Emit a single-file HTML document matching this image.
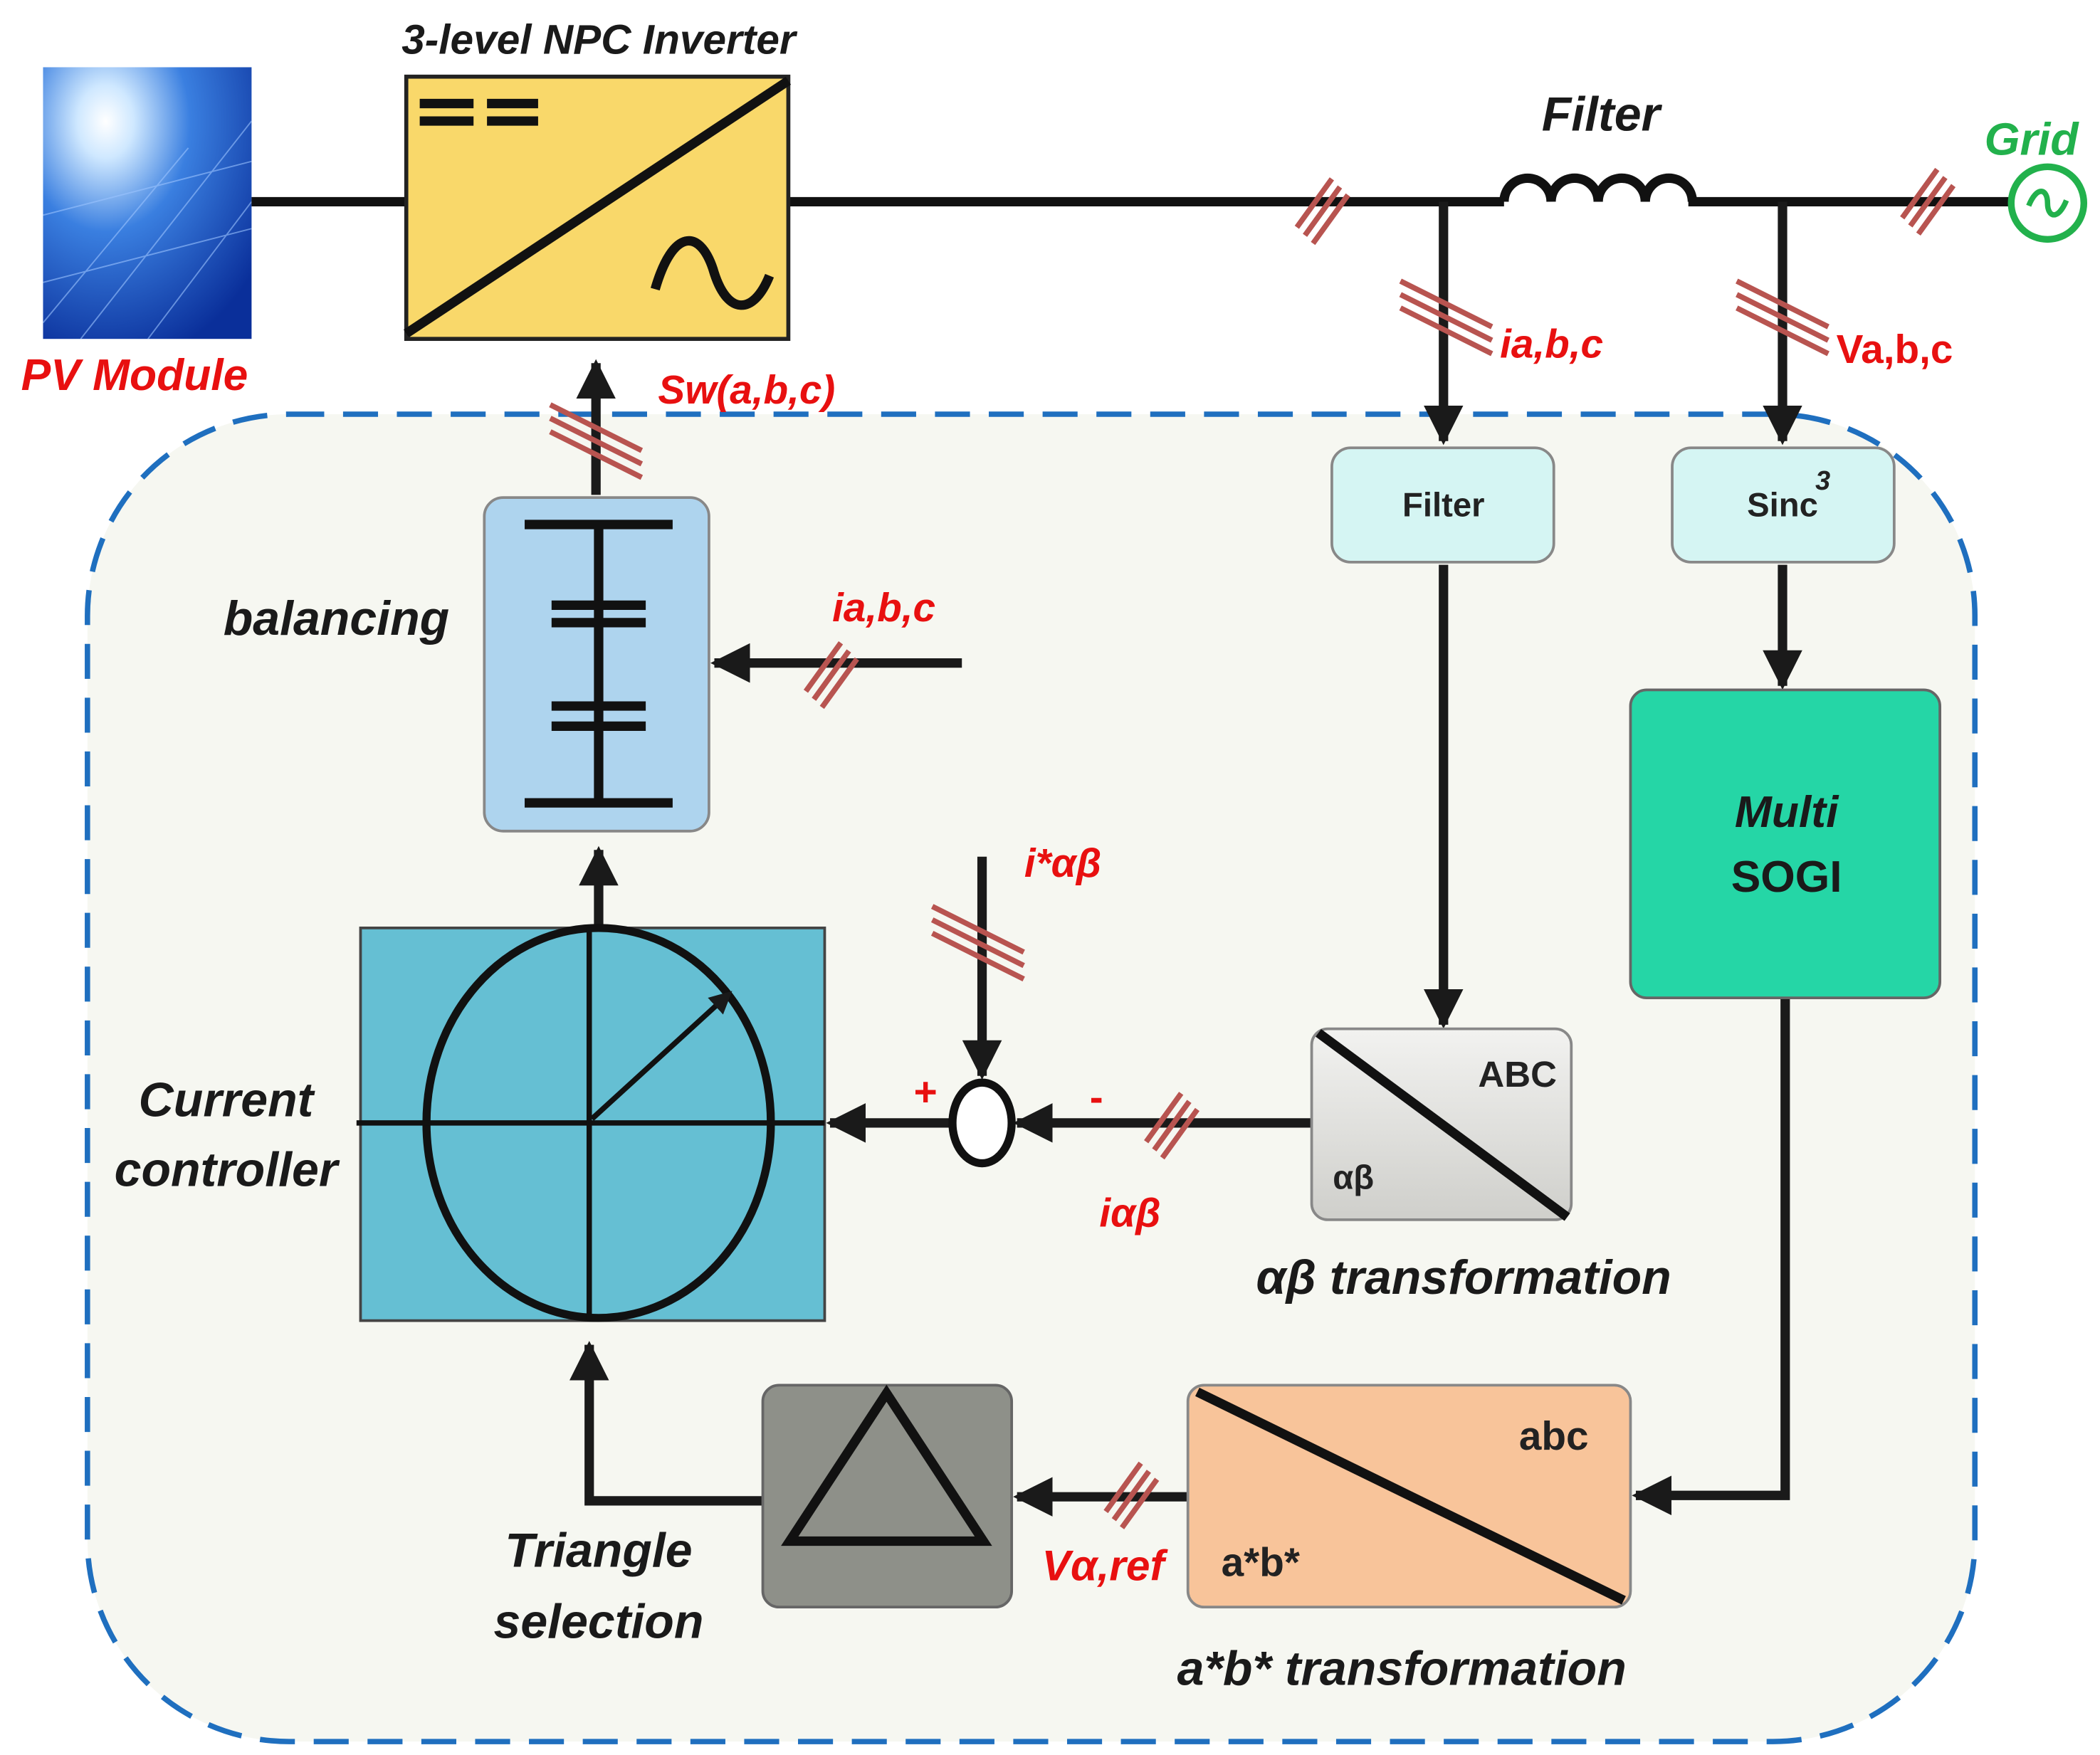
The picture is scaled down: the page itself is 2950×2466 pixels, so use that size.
<!DOCTYPE html>
<html><head><meta charset="utf-8"><style>
html,body{margin:0;padding:0;background:#fff}
svg{display:block}
text{font-family:"Liberation Sans",sans-serif;font-weight:bold}
</style></head><body>
<svg width="2950" height="2466" viewBox="0 0 1561 1305" preserveAspectRatio="none" xmlns="http://www.w3.org/2000/svg">
<defs>
<marker id="ar" viewBox="0 0 10 10" refX="9" refY="5" markerWidth="4.2" markerHeight="4.2" orient="auto" markerUnits="strokeWidth"><path d="M0,0 L10,5 L0,10 z" fill="#1a1a1a"/></marker>
<radialGradient id="sun" cx="0.3" cy="0.2" r="0.9"><stop offset="0" stop-color="#fff"/><stop offset="0.15" stop-color="#cfe8ff"/><stop offset="0.45" stop-color="#3a7fe0"/><stop offset="1" stop-color="#0a2f9a"/></radialGradient>
<linearGradient id="gr" x1="0" y1="0" x2="0" y2="1"><stop offset="0" stop-color="#f2f2f0"/><stop offset="1" stop-color="#cfcfcb"/></linearGradient>
<g id="h"><line x1="-18" y1="14" x2="8" y2="-22" /><line x1="-12" y1="20" x2="14" y2="-16"/><line x1="-6" y1="26" x2="20" y2="-10"/></g>
<g id="v"><line x1="-34" y1="-26" x2="34" y2="8"/><line x1="-34" y1="-16" x2="34" y2="18"/><line x1="-34" y1="-6" x2="34" y2="28"/></g>
</defs>
<rect width="1561" height="1305" fill="#fff"/>
<rect x="65" y="308" width="1403" height="987" rx="150" fill="#f6f7f1" stroke="#1f6fbf" stroke-width="4" stroke-dasharray="26,14"/>
<rect x="32" y="50" width="155" height="202" fill="url(#sun)"/>
<g stroke="#9cc4ff" stroke-width="1" opacity="0.6"><line x1="32" y1="160" x2="187" y2="120"/><line x1="32" y1="210" x2="187" y2="170"/><line x1="60" y1="252" x2="187" y2="90"/><line x1="110" y1="252" x2="187" y2="150"/><line x1="32" y1="240" x2="140" y2="110"/></g>
<text x="100" y="290" font-size="33" fill="#e81010" font-style="italic" text-anchor="middle">PV Module</text>
<g stroke="#111" stroke-width="7" fill="none">
<line x1="187" y1="150" x2="302" y2="150"/>
<line x1="586" y1="150" x2="1118" y2="150"/>
<path d="M1118,150 a17,17 0 0 1 35,0 a17,17 0 0 1 35,0 a17,17 0 0 1 35,0 a17,17 0 0 1 35,0"/>
<line x1="1255" y1="150" x2="1495" y2="150"/>
</g>
<text x="445" y="40" font-size="31" fill="#1a1a1a" font-style="italic" text-anchor="middle">3-level NPC Inverter</text>
<rect x="302" y="57" width="284" height="195" fill="#f9d86a" stroke="#222" stroke-width="3"/>
<line x1="302" y1="248" x2="586" y2="60" stroke="#111" stroke-width="7"/>
<g stroke="#111" stroke-width="7"><line x1="312" y1="77" x2="352" y2="77"/><line x1="362" y1="77" x2="400" y2="77"/><line x1="312" y1="90" x2="352" y2="90"/><line x1="362" y1="90" x2="400" y2="90"/></g>
<path d="M487,215 C500,170 520,170 530,200 C540,235 560,235 572,205" stroke="#111" stroke-width="7" fill="none"/>
<text x="1190" y="97" font-size="36" fill="#1a1a1a" font-style="italic" text-anchor="middle">Filter</text>
<circle cx="1522" cy="151" r="27" fill="#fff" stroke="#22b14c" stroke-width="5"/>
<path d="M1508,153 C1514,138 1522,140 1522,151 C1522,162 1530,164 1536,149" stroke="#22b14c" stroke-width="4" fill="none"/>
<text x="1510" y="115" font-size="34" fill="#22b14c" font-style="italic" text-anchor="middle">Grid</text>
<g stroke="#1a1a1a" stroke-width="7" fill="none">
<line x1="1073" y1="150" x2="1073" y2="328" marker-end="url(#ar)"/>
<line x1="1325" y1="150" x2="1325" y2="328" marker-end="url(#ar)"/>
<line x1="1073" y1="420" x2="1073" y2="762" marker-end="url(#ar)"/>
<line x1="1325" y1="420" x2="1325" y2="510" marker-end="url(#ar)"/>
<polyline points="1327,742 1327,1112 1216,1112" marker-end="url(#ar)"/>
<line x1="883" y1="1113" x2="756" y2="1113" marker-end="url(#ar)"/>
<polyline points="567,1116 438,1116 438,1000" marker-end="url(#ar)"/>
<line x1="975" y1="835" x2="756" y2="835" marker-end="url(#ar)"/>
<line x1="707" y1="835" x2="617" y2="835" marker-end="url(#ar)"/>
<line x1="730" y1="637" x2="730" y2="800" marker-end="url(#ar)"/>
<line x1="445" y1="690" x2="445" y2="632" marker-end="url(#ar)"/>
<line x1="443" y1="368" x2="443" y2="270" marker-end="url(#ar)"/>
<line x1="715" y1="493" x2="531" y2="493" marker-end="url(#ar)"/>
</g>
<g stroke="#b85450" stroke-width="4">
<use href="#h" x="982" y="155"/><use href="#h" x="1432" y="148"/>
<use href="#v" x="1075" y="235"/>
<use href="#v" x="1325" y="235"/>
<use href="#v" x="443" y="327"/>
<use href="#v" x="727" y="700"/>
<use href="#h" x="617" y="500"/><use href="#h" x="870" y="835"/><use href="#h" x="840" y="1110"/>
</g>
<text x="1115" y="266" font-size="30" fill="#e81010" font-style="italic">ia,b,c</text>
<text x="1365" y="270" font-size="30" fill="#e81010">Va,b,c</text>
<text x="555" y="300" font-size="30" fill="#e81010" font-style="italic" text-anchor="middle">Sw(a,b,c)</text>
<text x="657" y="462" font-size="30" fill="#e81010" font-style="italic" text-anchor="middle">ia,b,c</text>
<text x="790" y="652" font-size="30" fill="#e81010" font-style="italic" text-anchor="middle">i*αβ</text>
<text x="840" y="912" font-size="30" fill="#e81010" font-style="italic" text-anchor="middle">iαβ</text>
<text x="820" y="1175" font-size="32" fill="#e81010" font-style="italic" text-anchor="middle">Vα,ref</text>
<text x="815" y="826" font-size="30" fill="#e81010" text-anchor="middle">-</text>
<text x="688" y="822" font-size="30" fill="#e81010" text-anchor="middle">+</text>
<rect x="990" y="333" width="165" height="85" rx="14" fill="#d5f5f3" stroke="#888" stroke-width="2"/>
<text x="1073" y="384" font-size="25" fill="#222" text-anchor="middle">Filter</text>
<rect x="1243" y="333" width="165" height="85" rx="14" fill="#d5f5f3" stroke="#888" stroke-width="2"/>
<text x="1325" y="384" font-size="25" fill="#222" text-anchor="middle">Sinc</text>
<text x="1355" y="364" font-size="20" fill="#222" font-style="italic" text-anchor="middle">3</text>
<rect x="1212" y="513" width="230" height="229" rx="12" fill="#25d6a6" stroke="#666" stroke-width="2"/>
<text x="1328" y="615" font-size="33" fill="#1a1a1a" font-style="italic" text-anchor="middle">Multi</text>
<text x="1328" y="663" font-size="33" fill="#1a1a1a" text-anchor="middle">SOGI</text>
<rect x="975" y="765" width="193" height="142" rx="12" fill="url(#gr)" stroke="#888" stroke-width="2"/>
<line x1="980" y1="768" x2="1165" y2="905" stroke="#111" stroke-width="7"/>
<text x="1128" y="808" font-size="27" fill="#222" text-anchor="middle">ABC</text>
<text x="1006" y="884" font-size="25" fill="#222" text-anchor="middle">αβ</text>
<text x="1088" y="962" font-size="36" fill="#1a1a1a" font-style="italic" text-anchor="middle">αβ transformation</text>
<rect x="883" y="1030" width="329" height="165" rx="12" fill="#f8c49a" stroke="#888" stroke-width="2"/>
<line x1="890" y1="1035" x2="1207" y2="1190" stroke="#111" stroke-width="7"/>
<text x="1155" y="1078" font-size="30" fill="#222" text-anchor="middle">abc</text>
<text x="937" y="1172" font-size="30" fill="#222" text-anchor="middle">a*b*</text>
<text x="1042" y="1253" font-size="36" fill="#1a1a1a" font-style="italic" text-anchor="middle">a*b* transformation</text>
<rect x="567" y="1030" width="185" height="165" rx="12" fill="#8e9089" stroke="#666" stroke-width="2"/>
<polygon points="659,1036 587,1146 731,1146" fill="none" stroke="#111" stroke-width="7"/>
<text x="445" y="1165" font-size="36" fill="#1a1a1a" font-style="italic" text-anchor="middle">Triangle</text>
<text x="445" y="1218" font-size="36" fill="#1a1a1a" font-style="italic" text-anchor="middle">selection</text>
<rect x="268" y="690" width="345" height="292" fill="#65bfd3" stroke="#444" stroke-width="2"/>
<ellipse cx="445" cy="835" rx="128" ry="145" fill="none" stroke="#111" stroke-width="6"/>
<line x1="265" y1="835" x2="613" y2="835" stroke="#111" stroke-width="4"/>
<line x1="438" y1="690" x2="438" y2="982" stroke="#111" stroke-width="4"/>
<line x1="440" y1="832" x2="543" y2="738" stroke="#111" stroke-width="4" marker-end="url(#ar)"/>
<text x="168" y="830" font-size="36" fill="#1a1a1a" font-style="italic" text-anchor="middle">Current</text>
<text x="168" y="882" font-size="36" fill="#1a1a1a" font-style="italic" text-anchor="middle">controller</text>
<ellipse cx="730" cy="835" rx="22" ry="30" fill="#fff" stroke="#111" stroke-width="6"/>
<rect x="360" y="370" width="167" height="248" rx="14" fill="#aed4ee" stroke="#888" stroke-width="2"/>
<g stroke="#111" stroke-width="7">
<line x1="445" y1="390" x2="445" y2="597"/>
<line x1="390" y1="390" x2="500" y2="390"/><line x1="390" y1="597" x2="500" y2="597"/>
<line x1="410" y1="450" x2="480" y2="450"/><line x1="410" y1="463" x2="480" y2="463"/>
<line x1="410" y1="525" x2="480" y2="525"/><line x1="410" y1="540" x2="480" y2="540"/>
</g>
<text x="250" y="472" font-size="36" fill="#1a1a1a" font-style="italic" text-anchor="middle">balancing</text>
</svg>
</body></html>
